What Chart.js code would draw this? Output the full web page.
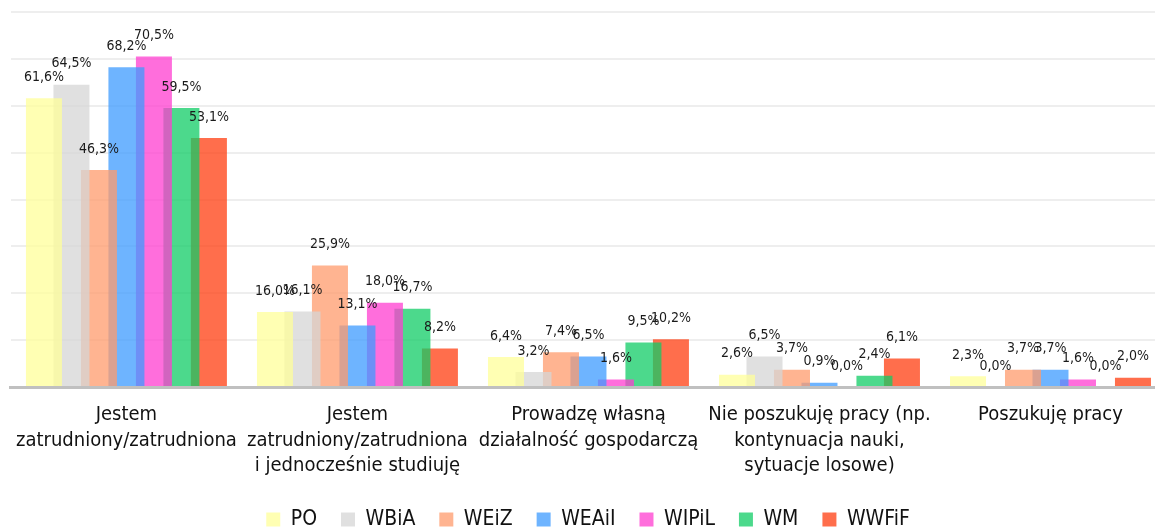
<!DOCTYPE html>
<html>
<head>
<meta charset="utf-8">
<script src="https://cdn.jsdelivr.net/npm/chart.js@4"></script>
<style>
html,body{margin:0;padding:0;background:#fff;overflow:hidden;}
#wrap{width:1155px;height:528px;overflow:hidden;position:relative;}
canvas{display:block;}
</style>
</head>
<body>
<div id="wrap"><canvas id="c" width="1176" height="540" style="width:1176px;height:540px"></canvas></div>
<script>
const categories = [
  ["Jestem", "zatrudniony/zatrudniona"],
  ["Jestem", "zatrudniony/zatrudniona", "i jednocześnie studiuję"],
  ["Prowadzę własną", "działalność gospodarczą"],
  ["Nie poszukuję pracy (np.", "kontynuacja nauki,", "sytuacje losowe)"],
  ["Poszukuję pracy"]
];
const seriesNames = ["PO", "WBiA", "WEiZ", "WEAiI", "WIPiL", "WM", "WWFiF"];
const PO    = [61.6, 16.0, 6.4, 2.6, 2.3];
const WBiA  = [64.5, 16.1, 3.2, 6.5, 0.0];
const WEiZ  = [46.3, 25.9, 7.4, 3.7, 3.7];
const WEAiI = [68.2, 13.1, 6.5, 0.9, 3.7];
const WIPiL = [70.5, 18.0, 1.6, 0.0, 1.6];
const WM    = [59.5, 16.7, 9.5, 2.4, 0.0];
const WWFiF = [53.1, 8.2, 10.2, 6.1, 2.0];
const seriesValues = [PO, WBiA, WEiZ, WEAiI, WIPiL, WM, WWFiF];
const colors = [
  "rgba(255,255,154,0.75)",
  "rgba(214,214,214,0.75)",
  "rgba(255,155,108,0.75)",
  "rgba(62,155,255,0.75)",
  "rgba(255,62,208,0.75)",
  "rgba(16,204,102,0.75)",
  "rgba(255,62,16,0.75)"
];
const FONT = '"DejaVu Sans Condensed", "Liberation Sans Narrow", "DejaVu Sans", sans-serif';

const labelPlugin = {
  id: 'valueLabels',
  afterDatasetsDraw(chart) {
    const ctx = chart.ctx;
    ctx.save();
    ctx.font = '14px ' + FONT;
    ctx.fillStyle = '#1a1a1a';
    ctx.textAlign = 'center';
    ctx.textBaseline = 'middle';
    chart.data.datasets.forEach((ds, i) => {
      const meta = chart.getDatasetMeta(i);
      meta.data.forEach((bar, j) => {
        const v = ds.data[j];
        const txt = v.toFixed(1).replace('.', ',') + '%';
        ctx.fillText(txt, bar.x, bar.y - 21);
      });
    });
    ctx.restore();
  }
};

new Chart(document.getElementById('c'), {
  type: 'bar',
  data: {
    labels: categories,
    datasets: seriesNames.map((n, i) => ({
      label: n,
      data: seriesValues[i],
      backgroundColor: colors[i],
      borderWidth: 0,
      barPercentage: 1.31,
      categoryPercentage: 0.833
    }))
  },
  options: {
    responsive: false,
    animation: false,
    layout: { padding: { top: 12, left: 10, right: 10, bottom: 0 } },
    scales: {
      x: {
        grid: { display: false, drawTicks: false },
        border: { display: true, color: '#c0c0c0', width: 3 },
        ticks: {
          color: '#111', font: { family: FONT, size: 20, lineHeight: 1.28 },
          padding: 15, maxRotation: 0, minRotation: 0, autoSkip: false
        },
        afterFit(s) { s.height = 98; }
      },
      y: {
        min: 0, max: 80,
        ticks: { stepSize: 10, display: false },
        grid: { color: '#eeeeee', lineWidth: 2, drawTicks: false },
        border: { display: false },
        afterFit(s) { s.width = 0; }
      }
    },
    plugins: {
      legend: {
        position: 'bottom',
        labels: {
          boxWidth: 14, boxHeight: 14, padding: 24,
          color: '#111', font: { family: FONT, size: 21 }
        }
      },
      tooltip: { enabled: false }
    }
  },
  plugins: [labelPlugin]
});
</script>
</body>
</html>
